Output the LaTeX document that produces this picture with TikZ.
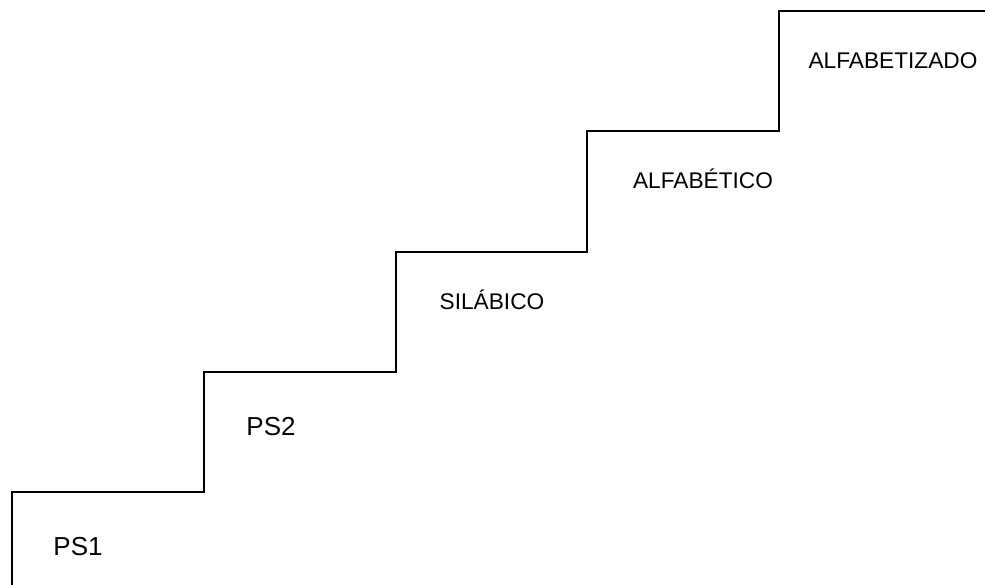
\documentclass[tikz,border=0pt]{standalone}
\usepackage{fontspec}
\setmainfont{Liberation Sans}
\tikzset{
	stairs/.style={line width=1.1pt},
	lowlabel/.style={anchor=base,font=\fontsize{19.5}{22}\selectfont},
	highlabel/.style={anchor=base,font=\fontsize{17}{20}\selectfont}
}
\begin{document}
\begin{tikzpicture}[x=0.75pt,y=-0.75pt]
	\useasboundingbox (0,0) rectangle (985,585);
	
	\draw [stairs] (12,590) -- (12,492) -- (204,492) -- (204,372) -- (396,372) -- (396,252) -- (587,252) -- (587,131) -- (779,131) -- (779,11) -- (990,11);
	
	\node (ps1) [lowlabel] at (78,555) {PS1};
	\node (ps2) [lowlabel] at (271,435) {PS2};
	\node (silabico) [highlabel] at (492,309) {SILÁBICO};
	\node (alfabetico) [highlabel] at (703,188) {ALFABÉTICO};
	\node (alfabetizado) [highlabel] at (893,69) {ALFABETIZADO};
\end{tikzpicture}
\end{document}
